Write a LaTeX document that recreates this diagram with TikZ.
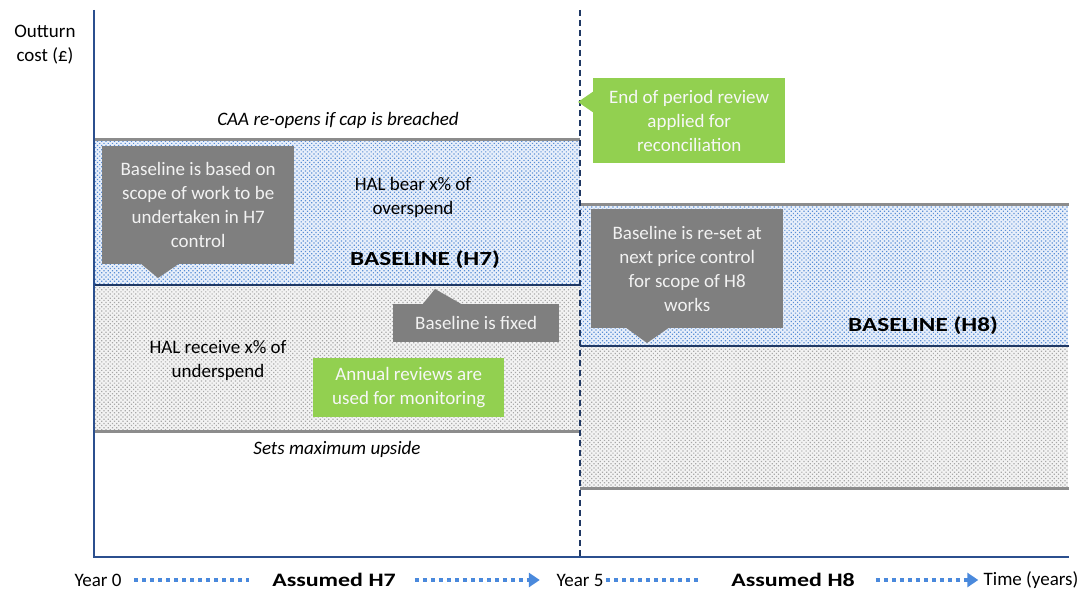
\documentclass[tikz,border=0pt]{standalone}
\usepackage{fontspec}
\setmainfont{Carlito}
\newfontfamily\headfont{Carlito}[FakeStretch=1.26]
\usetikzlibrary{patterns.meta,arrows.meta}

\definecolor{navy}{HTML}{1F3864}
\definecolor{axisblue}{HTML}{2B4F8E}
\definecolor{rulegray}{HTML}{8C8C8C}
\definecolor{calloutgray}{HTML}{7F7F7F}
\definecolor{calloutgreen}{HTML}{92D050}
\definecolor{arrowblue}{HTML}{4A89DC}
\definecolor{dotblue}{HTML}{5A8FD6}
\definecolor{tintblue}{HTML}{E8EFFA}
\definecolor{dotgray}{HTML}{A8A8A8}
\definecolor{tintgray}{HTML}{F3F3F3}

\tikzset{
  x=1pt, y=-1pt,
  label/.style={font=\fontsize{19}{24}\selectfont, text=black, inner sep=0pt, align=center},
  note/.style={label, font=\fontsize{19}{24}\selectfont\itshape},
  heading/.style={label, font=\headfont\fontsize{20}{24}\selectfont\bfseries},
  graybox/.style={label, fill=calloutgray, text=white!95!black, anchor=north west},
  greenbox/.style={label, fill=calloutgreen, text=white!97!black, anchor=north west},
  upperband/.style={fill=tintblue, postaction={pattern={Dots[distance=3pt, radius=0.85pt, angle=45]}, pattern color=dotblue}},
  lowerband/.style={fill=tintgray, postaction={pattern={Dots[distance=3pt, radius=0.85pt, angle=45]}, pattern color=dotgray}},
  capline/.style={rulegray, line width=3pt},
  baseline/.style={navy, line width=2.6pt},
  axisline/.style={axisblue, line width=2pt},
  period/.style={navy, line width=1.4pt, dash pattern=on 6pt off 4pt},
  timeline/.style={arrowblue, line width=4pt, dash pattern=on 4pt off 4pt},
  timearrow/.style={timeline, -{Triangle[length=11pt, width=14pt]}},
  axislabel/.style={label, minimum height=20pt},
}

\begin{document}
\begin{tikzpicture}
\useasboundingbox (0,0) rectangle (1084,591);

% H7 period bands
\path[upperband] (94,140) rectangle (580,285);
\path[lowerband] (94,285) rectangle (580,431);
% H8 period bands
\path[upperband] (580,204) rectangle (1068,346);
\path[lowerband] (580,346) rectangle (1068,488);

% cap, baseline and floor lines
\draw[capline] (94,140) -- (580,140);
\draw[baseline] (94,285) -- (580,285);
\draw[capline] (94,431) -- (580,431);
\draw[capline] (580,204) -- (1069,204);
\draw[baseline] (580,346) -- (1069,346);
\draw[capline] (580,488) -- (1069,488);

% end of H7 period
\draw[period] (580,10) -- (580,557);

% axes
\draw[axisline] (94,10) -- (94,557) -- (1069,557);

% axis title
\node[label] (ytitle) at (45,45) {Outturn\\cost (£)};

% band annotations
\node[note] (cap) at (338,120) {CAA re-opens if cap is breached};
\node[note] (floor) at (337,449) {Sets maximum upside};
\node[label] (over) at (413,197) {HAL bear x\% of\\overspend};
\node[heading] (base7) at (425,260) {BASELINE (H7)};
\node[label] (under) at (218,360) {HAL receive x\% of\\underspend};
\node[heading] (base8) at (923,326) {BASELINE (H8)};

% callouts
\fill[calloutgray] (140,263) -- (158,278) -- (180,263) -- cycle;
\node[graybox, minimum width=192pt, minimum height=118pt] (scope7) at (102,146)
  {Baseline is based on\\scope of work to be\\undertaken in H7\\control};

\fill[calloutgray] (422,305) -- (435,289) -- (463,305) -- cycle;
\node[graybox, minimum width=166pt, minimum height=38pt] (fixed) at (393,304)
  {Baseline is fixed};

\node[greenbox, minimum width=191pt, minimum height=59pt] (annual) at (313,358)
  {Annual reviews are\\used for monitoring};

\fill[calloutgreen] (594,91) -- (578,102) -- (594,113) -- cycle;
\node[greenbox, minimum width=192pt, minimum height=85pt] (review) at (593,78)
  {End of period review\\applied for\\reconciliation};

\fill[calloutgray] (625,327) -- (647,343) -- (670,327) -- cycle;
\node[graybox, minimum width=192pt, minimum height=119pt] (scope8) at (591,209)
  {Baseline is re-set at\\next price control\\for scope of H8\\works};

% time axis labels
\node[axislabel, minimum width=52pt] (y0) at (98,580) {Year 0};
\node[axislabel, minimum width=120pt, font=\headfont\fontsize{19}{24}\selectfont\bfseries] (h7) at (334,580) {Assumed H7};
\node[axislabel, minimum width=52pt] (y5) at (580,580) {Year 5};
\node[axislabel, minimum width=118pt, font=\headfont\fontsize{19}{24}\selectfont\bfseries] (h8) at (793,580) {Assumed H8};
\node[axislabel, minimum width=101pt] (tyears) at (1031,580) {Time (years)};

\draw[timeline, shorten <=10pt, shorten >=23pt] (y0.east) -- (h7.west);
\draw[timearrow, shorten <=19pt, shorten >=14pt] (h7.east) -- (y5.west);
\draw[timeline, shorten >=33pt] (y5.east) -- (h8.west);
\draw[timearrow, shorten <=21pt, shorten >=2pt] (h8.east) -- (tyears.west);
\end{tikzpicture}
\end{document}
